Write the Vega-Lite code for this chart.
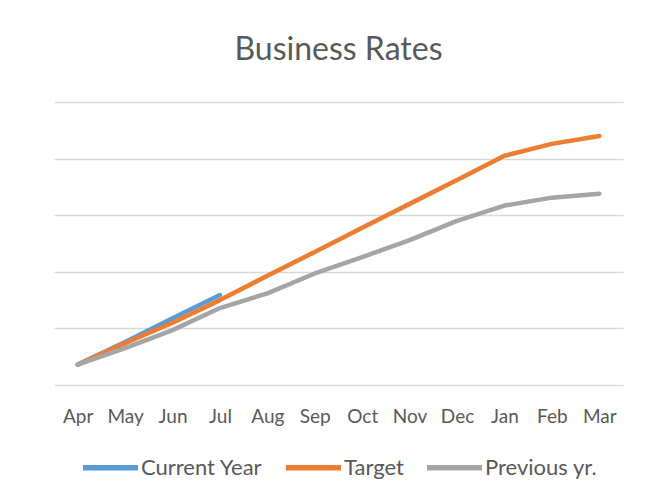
{
  "$schema": "https://vega.github.io/schema/vega-lite/v6.json",
  "width": 569,
  "height": 283,
  "autosize": {"type": "none"},
  "padding": {"left": 54, "top": 102, "right": 31, "bottom": 116},
  "background": "white",
  "title": {
    "text": "Business Rates",
    "font": "Lato",
    "fontSize": 32,
    "fontWeight": "normal",
    "color": "#595959",
    "anchor": "middle",
    "baseline": "alphabetic",
    "offset": 10
  },
  "data": {
    "values": [
      {"month": "Apr", "series": "Current Year", "value": 0.36},
      {"month": "May", "series": "Current Year", "value": 0.76},
      {"month": "Jun", "series": "Current Year", "value": 1.18},
      {"month": "Jul", "series": "Current Year", "value": 1.59},
      {"month": "Apr", "series": "Target", "value": 0.36},
      {"month": "May", "series": "Target", "value": 0.74},
      {"month": "Jun", "series": "Target", "value": 1.1},
      {"month": "Jul", "series": "Target", "value": 1.5},
      {"month": "Aug", "series": "Target", "value": 1.93},
      {"month": "Sep", "series": "Target", "value": 2.35},
      {"month": "Oct", "series": "Target", "value": 2.78},
      {"month": "Nov", "series": "Target", "value": 3.2},
      {"month": "Dec", "series": "Target", "value": 3.62},
      {"month": "Jan", "series": "Target", "value": 4.05},
      {"month": "Feb", "series": "Target", "value": 4.26},
      {"month": "Mar", "series": "Target", "value": 4.4},
      {"month": "Apr", "series": "Previous yr.", "value": 0.36},
      {"month": "May", "series": "Previous yr.", "value": 0.65},
      {"month": "Jun", "series": "Previous yr.", "value": 0.97},
      {"month": "Jul", "series": "Previous yr.", "value": 1.36},
      {"month": "Aug", "series": "Previous yr.", "value": 1.62},
      {"month": "Sep", "series": "Previous yr.", "value": 1.97},
      {"month": "Oct", "series": "Previous yr.", "value": 2.26},
      {"month": "Nov", "series": "Previous yr.", "value": 2.56},
      {"month": "Dec", "series": "Previous yr.", "value": 2.9},
      {"month": "Jan", "series": "Previous yr.", "value": 3.17},
      {"month": "Feb", "series": "Previous yr.", "value": 3.31},
      {"month": "Mar", "series": "Previous yr.", "value": 3.38}
    ]
  },
  "mark": {"type": "line", "strokeWidth": 4.5, "strokeCap": "round", "strokeJoin": "round"},
  "encoding": {
    "x": {
      "field": "month",
      "type": "ordinal",
      "sort": ["Apr", "May", "Jun", "Jul", "Aug", "Sep", "Oct", "Nov", "Dec", "Jan", "Feb", "Mar"],
      "scale": {"type": "point", "padding": 0.5},
      "axis": {
        "title": null,
        "domain": false,
        "ticks": false,
        "grid": false,
        "labelAngle": 0,
        "labelFont": "Lato",
        "labelFontSize": 19,
        "labelColor": "#595959",
        "labelPadding": 22
      }
    },
    "y": {
      "field": "value",
      "type": "quantitative",
      "scale": {"domain": [0, 5], "nice": false, "zero": true},
      "axis": {
        "title": null,
        "values": [0, 1, 2, 3, 4, 5],
        "labels": false,
        "ticks": false,
        "domain": false,
        "grid": true,
        "gridColor": "#d9d9d9",
        "gridWidth": 1.3
      }
    },
    "color": {
      "field": "series",
      "type": "nominal",
      "scale": {
        "domain": ["Current Year", "Target", "Previous yr."],
        "range": ["#5b9bd5", "#ed7d31", "#a5a5a5"]
      },
      "legend": {
        "title": null,
        "orient": "none",
        "direction": "horizontal",
        "legendX": 26,
        "legendY": 335,
        "symbolType": "stroke",
        "symbolSize": 3025,
        "symbolStrokeWidth": 5.5,
        "labelFont": "Lato",
        "labelFontSize": 22,
        "labelColor": "#595959",
        "labelOffset": 0,
        "columnPadding": 12,
        "labelLimit": 300
      }
    }
  },
  "config": {
    "view": {"stroke": null}
  }
}
